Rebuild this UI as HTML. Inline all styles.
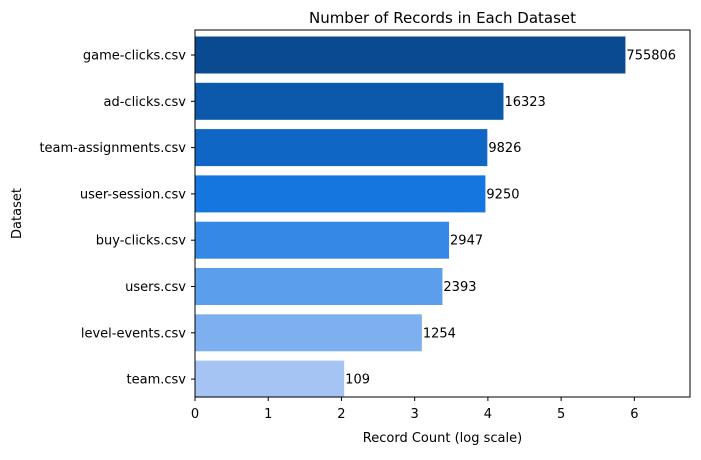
<!DOCTYPE html>
<html><head><meta charset="utf-8"><style>
body{margin:0;background:#fff;font-family:"Liberation Sans","DejaVu Sans",sans-serif}
svg text{font-family:"DejaVu Sans","Liberation Sans",sans-serif;fill:#000}
</style></head><body>
<svg id="chart" width="701" height="455" xmlns="http://www.w3.org/2000/svg"></svg>
<script>
const categories=["game-clicks.csv","ad-clicks.csv","team-assignments.csv","user-session.csv","buy-clicks.csv","users.csv","level-events.csv","team.csv"];
const counts=[755806,16323,9826,9250,2947,2393,1254,109];
const colors=["#0a4a90","#0c58aa","#0f66c4","#1476de","#3688e6","#5b9eec","#7eb0f0","#a5c4f4"];
const xTicks=[0,1,2,3,4,5,6];
const L=195,R=690,T=30,B=397;
const vals=counts.map(c=>Math.log10(c));
const xmax=Math.max(...vals)*1.15;
const sx=v=>L+v/xmax*(R-L);
const band=46.3;
const sy=i=>55+i*band;
const svg=document.getElementById('chart');
const NS="http://www.w3.org/2000/svg";
function mk(tag,attrs,txt){const e=document.createElementNS(NS,tag);for(const k in attrs)e.setAttribute(k,attrs[k]);if(txt!==undefined)e.textContent=txt;svg.appendChild(e);return e;}
categories.forEach((c,i)=>{
  const r=mk('rect',{x:sx(0),y:sy(i)-18.5,width:sx(vals[i])-sx(0),height:37,fill:colors[i]});
  
  
  const v=mk('text',{x:sx(vals[i])+1,y:sy(i)+4.5,'font-size':13},String(counts[i]));
  
  
  mk('line',{x1:L-4,x2:L,y1:sy(i),y2:sy(i),stroke:'#000'});
  const t=mk('text',{x:L-9,y:sy(i)+4.5,'font-size':13,'text-anchor':'end'},c);
  
  
});
xTicks.forEach(v=>{
  mk('line',{x1:sx(v),x2:sx(v),y1:B,y2:B+4,stroke:'#000'});
  const t=mk('text',{x:sx(v),y:B+21,'font-size':13,'text-anchor':'middle'},String(v));
  
  
});
const f=mk('rect',{x:L,y:T,width:R-L,height:B-T,fill:'none',stroke:'#000','stroke-width':1});


const ti=mk('text',{x:(L+R)/2,y:23,'font-size':15,'text-anchor':'middle'},'Number of Records in Each Dataset');


const xl=mk('text',{x:(L+R)/2,y:442,'font-size':13,'text-anchor':'middle'},'Record Count (log scale)');


const yl=mk('text',{x:21,y:(T+B)/2,'font-size':13,'text-anchor':'middle',transform:'rotate(-90 21 '+((T+B)/2)+')'},'Dataset');


</script>
</body></html>
